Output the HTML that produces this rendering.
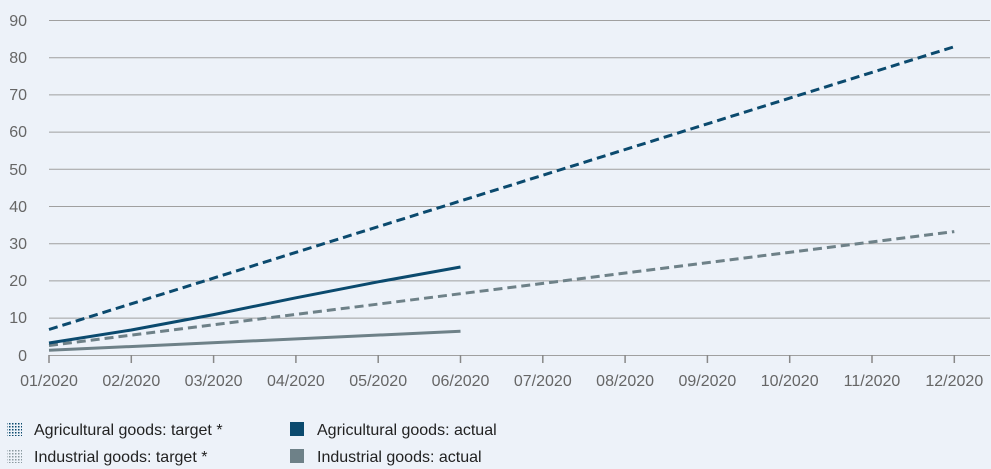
<!DOCTYPE html>
<html><head><style>
body{margin:0;background:#edf2f9;}
svg{display:block;font-family:"Liberation Sans",sans-serif;}
</style></head><body>
<svg width="991" height="469" viewBox="0 0 991 469">
<defs>
<pattern id="pa" width="3" height="3" patternUnits="userSpaceOnUse"><rect width="1.5" height="1.5" fill="#0b4a6e"/></pattern>
<pattern id="pi" width="3" height="3" patternUnits="userSpaceOnUse"><rect width="1.5" height="1.5" fill="#8a9aa0"/></pattern>
</defs>
<rect width="991" height="469" fill="#edf2f9"/>
<g stroke="#a0a0a0" stroke-width="1">
<line x1="49" x2="990" y1="20.5" y2="20.5"/><line x1="49" x2="990" y1="57.7" y2="57.7"/>
<line x1="49" x2="990" y1="94.9" y2="94.9"/><line x1="49" x2="990" y1="132.1" y2="132.1"/>
<line x1="49" x2="990" y1="169.3" y2="169.3"/><line x1="49" x2="990" y1="206.5" y2="206.5"/>
<line x1="49" x2="990" y1="243.7" y2="243.7"/><line x1="49" x2="990" y1="280.9" y2="280.9"/>
<line x1="49" x2="990" y1="318.1" y2="318.1"/><line x1="49" x2="990" y1="355.5" y2="355.5"/>
</g>
<g stroke="#888" stroke-width="1.5">
<line x1="49" x2="49" y1="355" y2="363"/><line x1="131.3" x2="131.3" y1="355" y2="363"/><line x1="213.6" x2="213.6" y1="355" y2="363"/><line x1="295.9" x2="295.9" y1="355" y2="363"/><line x1="378.2" x2="378.2" y1="355" y2="363"/><line x1="460.5" x2="460.5" y1="355" y2="363"/><line x1="542.8" x2="542.8" y1="355" y2="363"/><line x1="625.1" x2="625.1" y1="355" y2="363"/><line x1="707.4" x2="707.4" y1="355" y2="363"/><line x1="789.7" x2="789.7" y1="355" y2="363"/><line x1="872" x2="872" y1="355" y2="363"/><line x1="954.3" x2="954.3" y1="355" y2="363"/>
</g>
<g fill="#666" font-size="16" text-anchor="end">
<text x="27" y="26">90</text><text x="27" y="63">80</text><text x="27" y="100">70</text><text x="27" y="137">60</text><text x="27" y="175">50</text><text x="27" y="212">40</text><text x="27" y="249">30</text><text x="27" y="286">20</text><text x="27" y="323">10</text><text x="27" y="361">0</text>
</g>
<g fill="#666" font-size="16" text-anchor="middle">
<text x="49" y="386">01/2020</text><text x="131.3" y="386">02/2020</text><text x="213.6" y="386">03/2020</text><text x="295.9" y="386">04/2020</text><text x="378.2" y="386">05/2020</text><text x="460.5" y="386">06/2020</text><text x="542.8" y="386">07/2020</text><text x="625.1" y="386">08/2020</text><text x="707.4" y="386">09/2020</text><text x="789.7" y="386">10/2020</text><text x="872" y="386">11/2020</text><text x="954.3" y="386">12/2020</text>
</g>
<line x1="49" y1="329.5" x2="954.3" y2="46.7" stroke="#0b4a6e" stroke-width="3" stroke-dasharray="9,5"/>
<line x1="49" y1="345.5" x2="954.3" y2="231.6" stroke="#6e8188" stroke-width="3" stroke-dasharray="9,5"/>
<polyline points="49,343 131.3,330 213.6,314.6 295.9,297.8 378.2,281.8 460.5,267" fill="none" stroke="#0b4a6e" stroke-width="3"/>
<line x1="49" y1="350.3" x2="460.5" y2="331.3" stroke="#6e8188" stroke-width="3"/>
<rect x="7" y="422" width="15" height="14" fill="url(#pa)"/>
<rect x="7" y="449" width="15" height="14" fill="url(#pi)"/>
<rect x="290" y="422" width="14" height="14" fill="#0b4a6e"/>
<rect x="290" y="449" width="14" height="14" fill="#6e8188"/>
<g fill="#222" font-size="16">
<text x="34" y="435">Agricultural goods: target *</text>
<text x="34" y="462">Industrial goods: target *</text>
<text x="317" y="435">Agricultural goods: actual</text>
<text x="317" y="462">Industrial goods: actual</text>
</g>
</svg>
</body></html>
